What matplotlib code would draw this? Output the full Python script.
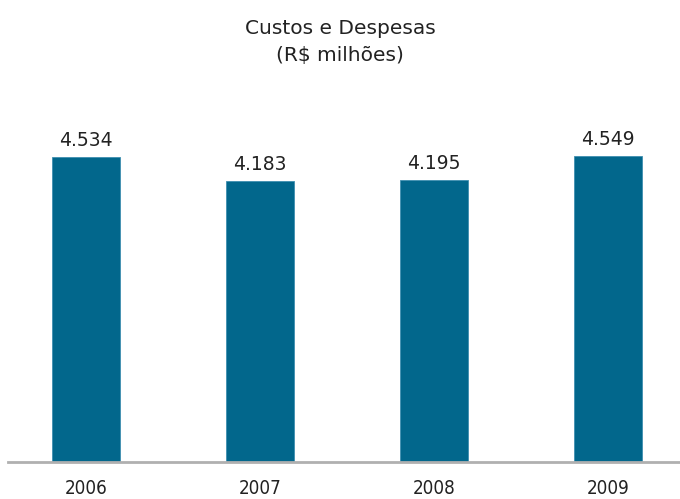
import matplotlib
matplotlib.use("Agg")
import matplotlib.pyplot as plt

# Data
years = ["2006", "2007", "2008", "2009"]
values = [4534, 4183, 4195, 4549]
labels = ["4.534", "4.183", "4.195", "4.549"]

bar_color = "#02678c"

fig = plt.figure(figsize=(6.8, 4.99), dpi=100)
ax = fig.add_axes([8 / 680, 37 / 499, 672 / 680, 362 / 499])

x = range(len(years))
bars = ax.bar(x, values, width=0.39, color=bar_color, edgecolor="#3f8fb0", linewidth=0.6)

for b, lab in zip(bars, labels):
    ax.text(b.get_x() + b.get_width() / 2, b.get_height() + 100, lab,
            ha="center", va="bottom", fontsize=13.5, color="#222222")

ax.set_xlim(-0.448, 3.414)
ax.set_ylim(0, 5381)
ax.set_yticks([])
ax.set_xticks(list(x))
ax.set_xticklabels(years, fontsize=13.5, color="#222222", fontstretch="condensed")
ax.tick_params(axis="x", length=0, pad=12)
for s in ["top", "right", "left"]:
    ax.spines[s].set_visible(False)
ax.spines["bottom"].set_color("#b0b0b0")
ax.spines["bottom"].set_linewidth(2)

fig.text(0.5, 1 - 28 / 499, "Custos e Despesas", ha="center", va="center",
         fontsize=14.5, color="#222222")
fig.text(0.5, 1 - 56 / 499, "(R$ milhões)", ha="center", va="center",
         fontsize=14.5, color="#222222")

fig.savefig("out.png", dpi=100)
